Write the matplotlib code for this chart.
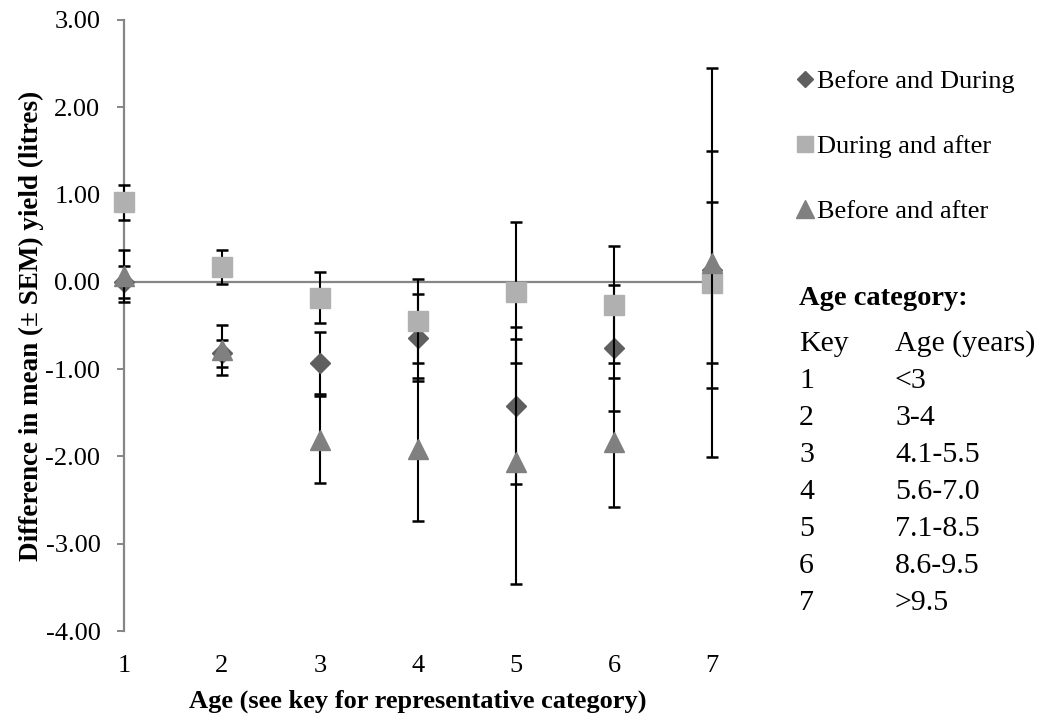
import numpy as np
import matplotlib.pyplot as plt
from matplotlib.lines import Line2D

plt.rcParams['font.family'] = ['Liberation Serif', 'DejaVu Serif']

# age categories (x) and series
ages = [1, 2, 3, 4, 5, 6, 7]
before_during = [0.00, -0.82, -0.93, -0.64, -1.42, -0.76, 0.14]
before_during_err = [0.18, 0.15, 0.35, 0.50, 0.90, 0.72, 1.36]
during_after = [0.91, 0.17, -0.18, -0.45, -0.12, -0.26, -0.01]
during_after_err = [0.20, 0.20, 0.29, 0.48, 0.81, 0.67, 0.92]
before_after = [0.07, -0.78, -1.81, -1.92, -2.06, -1.84, 0.22]
before_after_err = [0.30, 0.29, 0.50, 0.82, 1.40, 0.74, 2.23]

keys = ["1", "2", "3", "4", "5", "6", "7"]
age_ranges = ["<3", "3-4", "4.1-5.5", "5.6-7.0", "7.1-8.5", "8.6-9.5", ">9.5"]

c_bd = "#5f5f5f"
c_da = "#b0b0b0"
c_ba = "#808080"

W, H = 1053, 720
fig = plt.figure(figsize=(W / 100, H / 100), dpi=100)
ax = fig.add_axes([124 / W, 1 - 631 / H, (712 - 124) / W, (631 - 20) / H])

# zero line
ax.axhline(0, color="#868686", lw=1.6, zorder=1)

series = [
    (before_during, before_during_err, "D", 10.2, 8.5, c_bd, "Before and During"),
    (during_after, during_after_err, "s", 14.2, 12, c_da, "During and after"),
    (before_after, before_after_err, "^", 14.5, 12.5, c_ba, "Before and after"),
]
z = 2
handles = []
for y, e, m, ms, lms, c, lab in series:
    ax.errorbar(ages, y, yerr=e, fmt="none", ecolor="black", elinewidth=1.5,
                capsize=4.3, capthick=1.8, zorder=z, clip_on=False)
    ax.plot(ages, y, linestyle="none", marker=m, markersize=ms, color=c,
            markeredgecolor=c, zorder=z + 1, clip_on=False)
    handles.append(Line2D([], [], linestyle="none", marker=m, markersize=lms,
                          color=c, label=lab))
    z += 2

ax.set_xlim(1, 7)
ax.set_ylim(-4, 3)
ax.set_xticks(ages)
ax.set_yticks(np.arange(-4, 3.01, 1))
ax.set_yticklabels([f"{v:.2f}" for v in np.arange(-4, 3.01, 1)])

for s in ["top", "right", "bottom"]:
    ax.spines[s].set_visible(False)
ax.spines["left"].set_color("#868686")
ax.spines["left"].set_linewidth(1.6)
ax.tick_params(axis="y", direction="out", length=5, width=1.4, color="#868686",
               labelsize=19, pad=12)
ax.tick_params(axis="x", length=0, labelsize=19, pad=17)

ax.set_ylabel("Difference in mean (\u00b1 SEM) yield (litres)", fontsize=19.5,
              fontweight="bold", labelpad=1)
ax.set_xlabel("Age (see key for representative category)", fontsize=19,
              fontweight="bold", labelpad=9)

fig.legend(handles=handles, loc="upper left", bbox_to_anchor=(796 / W, 1 - 70 / H),
           frameon=False, fontsize=19, handlelength=0.7, handletextpad=0.1,
           labelspacing=1.57, borderpad=0, borderaxespad=0)

# age category key
fig.text(799 / W, 1 - 305 / H, "Age category:", fontsize=20.5, fontweight="bold",
         va="baseline", ha="left")
fig.text(799 / W, 1 - 351 / H, "Key", fontsize=21.5, va="baseline", ha="left")
fig.text(895 / W, 1 - 351 / H, "Age (years)", fontsize=21.5, va="baseline", ha="left")
for i, (k, a) in enumerate(zip(keys, age_ranges)):
    yy = 1 - (351 + (i + 1) * 37) / H
    fig.text(799 / W, yy, k, fontsize=21.5, va="baseline", ha="left")
    fig.text(895 / W, yy, a, fontsize=21.5, va="baseline", ha="left")

fig.savefig("out.png", dpi=100, facecolor="white")
